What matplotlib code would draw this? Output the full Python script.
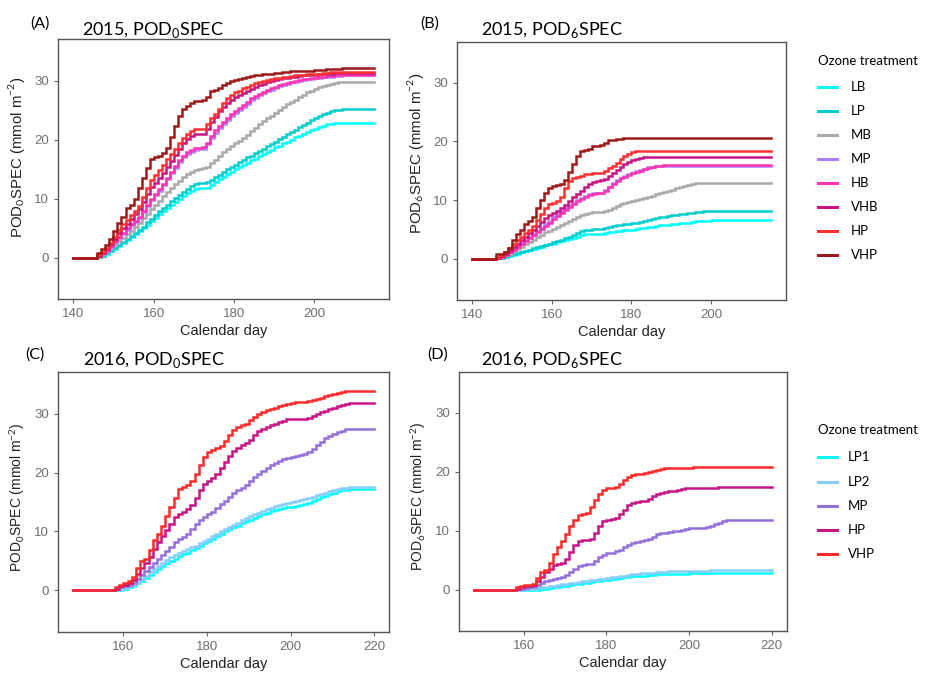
import numpy as np
import matplotlib
matplotlib.use('Agg')
import matplotlib.pyplot as plt
from matplotlib.lines import Line2D

# ---- data: cumulative stomatal ozone flux per calendar day ----
# 2015 series start at day 146 (flat at 0 from day 140)
names_2015 = ['LB', 'LP', 'MB', 'MP', 'HB', 'VHB', 'HP', 'VHP']
colors_2015 = ['#00FFFF', '#00CDCD', '#A9A9A9', '#AB82FF', '#FF34B3', '#C71585', '#FF3030', '#9E1A1A']

pod0_2015 = {
    'LB': [0.1, 0.3, 0.7, 1.1, 1.5, 2.0, 2.5, 3.0, 3.5, 4.0, 4.5, 5.0, 5.6, 6.2, 6.8, 7.4, 8.0, 8.5, 9.0, 9.5,
           10.0, 10.5, 11.0, 11.4, 11.7, 11.8, 11.8, 11.9, 12.3, 12.8, 13.3, 13.7, 14.2, 14.6, 15.0, 15.4, 15.7, 16.1, 16.5, 16.8,
           17.2, 17.6, 17.9, 18.3, 18.7, 19.0, 19.4, 19.7, 20.0, 20.4, 20.7, 21.0, 21.3, 21.6, 21.9, 22.2, 22.4, 22.6, 22.7, 22.8,
           22.9] + [22.9] * 9,
    'LP': [0.1, 0.4, 0.8, 1.2, 1.7, 2.2, 2.7, 3.2, 3.7, 4.2, 4.7, 5.3, 6.0, 6.6, 7.3, 7.9, 8.5, 9.0, 9.6, 10.1,
           10.7, 11.2, 11.7, 12.1, 12.5, 12.7, 12.7, 12.8, 13.2, 13.7, 14.1, 14.5, 15.0, 15.4, 15.8, 16.2, 16.6, 17.0, 17.3, 17.7,
           18.1, 18.5, 18.9, 19.3, 19.7, 20.1, 20.5, 20.9, 21.3, 21.7, 22.1, 22.5, 22.9, 23.3, 23.7, 24.0, 24.3, 24.6, 24.8, 25.0,
           25.1] + [25.2] * 9,
    'MB': [0.2, 0.6, 1.1, 1.6, 2.2, 2.8, 3.4, 4.0, 4.6, 5.3, 5.9, 6.7, 7.5, 8.3, 9.0, 9.7, 10.4, 11.1, 11.8, 12.5,
           13.1, 13.7, 14.2, 14.6, 14.9, 15.1, 15.2, 15.4, 16.0, 16.6, 17.3, 17.9, 18.4, 18.9, 19.4, 19.8, 20.3, 20.8, 21.4, 22.0,
           22.6, 23.1, 23.6, 24.1, 24.6, 25.1, 25.6, 26.0, 26.4, 26.8, 27.2, 27.6, 28.0, 28.3, 28.6, 28.9, 29.1, 29.3, 29.5, 29.6,
           29.7] + [29.8] * 9,
    'MP': [0.3, 0.7, 1.2, 1.9, 2.6, 3.4, 4.1, 4.8, 5.5, 6.1, 6.8, 7.8, 8.8, 9.8, 10.6, 11.4, 12.3, 13.3, 14.3, 15.3,
           16.2, 17.0, 17.6, 18.0, 18.3, 18.4, 18.5, 19.2, 20.3, 21.2, 22.0, 22.7, 23.4, 24.0, 24.5, 25.0, 25.5, 26.1, 26.7, 27.1,
           27.5, 27.9, 28.2, 28.5, 28.8, 29.1, 29.3, 29.5, 29.7, 29.8, 30.0, 30.1, 30.2, 30.3, 30.4, 30.5, 30.6, 30.7, 30.7, 30.8,
           30.8] + [30.9] * 9,
    'HB': [0.3, 0.8, 1.3, 2.0, 2.8, 3.6, 4.3, 5.0, 5.7, 6.3, 7.0, 8.0, 9.0, 10.0, 10.8, 11.6, 12.5, 13.5, 14.5, 15.5,
           16.5, 17.3, 17.9, 18.3, 18.6, 18.6, 18.7, 19.5, 20.7, 21.6, 22.4, 23.0, 23.7, 24.3, 24.8, 25.3, 25.8, 26.4, 27.0, 27.4,
           27.8, 28.1, 28.4, 28.7, 28.9, 29.2, 29.4, 29.6, 29.8, 29.9, 30.1, 30.2, 30.3, 30.4, 30.5, 30.6, 30.7, 30.8, 30.8, 30.9,
           30.9] + [31.0] * 9,
    'VHB': [0.4, 0.9, 1.5, 2.3, 3.2, 4.2, 5.0, 5.8, 6.6, 7.4, 8.2, 9.5, 10.8, 12.0, 12.7, 13.5, 14.4, 15.4, 16.4, 17.4,
            18.5, 19.5, 20.2, 20.6, 20.9, 20.9, 21.0, 21.9, 23.0, 23.9, 24.8, 25.6, 26.3, 26.8, 27.2, 27.5, 27.9, 28.3, 28.6, 28.9,
            29.2, 29.5, 29.7, 29.9, 30.1, 30.3, 30.4, 30.5, 30.6, 30.7, 30.8, 30.9, 30.9, 31.0, 31.0, 31.1, 31.1, 31.2, 31.2, 31.3,
            31.3] + [31.3] * 9,
    'HP': [0.5, 1.0, 1.7, 2.6, 3.6, 4.8, 5.7, 6.5, 7.3, 8.0, 8.8, 10.3, 11.8, 13.2, 14.0, 14.8, 15.8, 16.8, 17.6, 18.4,
           19.4, 20.3, 21.0, 21.5, 21.8, 21.8, 21.9, 22.7, 23.6, 24.4, 25.2, 26.2, 27.1, 27.6, 28.0, 28.3, 28.7, 29.0, 29.3, 29.6,
           29.8, 30.0, 30.1, 30.3, 30.4, 30.5, 30.6, 30.7, 30.8, 30.9, 30.9, 31.0, 31.1, 31.1, 31.2, 31.2, 31.3, 31.3, 31.4, 31.4,
           31.5] + [31.5] * 9,
    'VHP': [0.8, 1.5, 2.2, 3.2, 4.6, 5.9, 7.0, 8.5, 9.0, 10.0, 11.8, 13.5, 15.2, 16.7, 17.0, 17.3, 17.8, 18.6, 20.5, 22.3,
            24.0, 25.2, 25.7, 26.2, 26.6, 26.6, 26.8, 27.3, 28.2, 28.5, 28.8, 29.3, 29.6, 29.9, 30.1, 30.2, 30.4, 30.6, 30.8, 30.9,
            31.0, 31.1, 31.1, 31.2, 31.3, 31.3, 31.4, 31.5, 31.6, 31.6, 31.6, 31.7, 31.7, 31.7, 31.8, 31.8, 31.8, 31.9, 31.9, 32.0,
            32.0] + [32.1] * 9,
}

pod6_2015 = {
    'LB': [0.1, 0.2, 0.3, 0.5, 0.7, 0.9, 1.1, 1.3, 1.5, 1.7, 1.9, 2.1, 2.3, 2.5, 2.6, 2.8, 3.0, 3.2, 3.4, 3.6,
           3.8, 4.0, 4.2, 4.3, 4.3, 4.3, 4.3, 4.4, 4.5, 4.6, 4.7, 4.8, 4.9, 5.0, 5.0, 5.1, 5.2, 5.3, 5.4, 5.5,
           5.6, 5.7, 5.8, 5.8, 5.9, 6.0, 6.1, 6.2, 6.2, 6.3, 6.4, 6.4, 6.5, 6.5, 6.6, 6.6, 6.7] + [6.7] * 13,
    'LP': [0.1, 0.2, 0.4, 0.6, 0.8, 1.0, 1.2, 1.4, 1.6, 1.8, 2.0, 2.2, 2.4, 2.6, 2.8, 3.0, 3.2, 3.5, 3.8, 4.1,
           4.4, 4.7, 4.9, 5.0, 5.1, 5.1, 5.1, 5.2, 5.4, 5.6, 5.7, 5.8, 5.9, 6.0, 6.1, 6.2, 6.3, 6.4, 6.6, 6.8,
           7.0, 7.1, 7.2, 7.3, 7.4, 7.5, 7.6, 7.7, 7.8, 7.9, 8.0, 8.0, 8.1] + [8.1] * 17,
    'MB': [0.1, 0.3, 0.6, 0.9, 1.3, 1.7, 2.1, 2.5, 2.9, 3.3, 3.7, 4.1, 4.5, 4.8, 5.1, 5.5, 5.8, 6.2, 6.5, 6.8,
           7.1, 7.4, 7.7, 7.9, 8.0, 8.0, 8.0, 8.1, 8.4, 8.7, 9.0, 9.3, 9.5, 9.7, 9.8, 10.0, 10.2, 10.4, 10.6, 10.8,
           11.0, 11.2, 11.4, 11.6, 11.8, 12.0, 12.2, 12.4, 12.6, 12.8, 12.9, 13.0] + [13.0] * 18,
    'MP': [0.2, 0.5, 0.8, 1.2, 1.7, 2.2, 2.7, 3.2, 3.7, 4.2, 4.7, 5.3, 5.9, 6.5, 7.1, 7.6, 8.1, 8.6, 9.1, 9.6,
           10.0, 10.4, 10.7, 11.0, 11.2, 11.3, 11.3, 11.7, 12.3, 12.9, 13.4, 13.8, 14.1, 14.4, 14.7, 14.9, 15.1, 15.4, 15.6, 15.7,
           15.8, 15.9, 15.9] + [15.9] * 27,
    'HB': [0.2, 0.4, 0.7, 1.1, 1.6, 2.1, 2.6, 3.1, 3.6, 4.1, 4.6, 5.1, 5.6, 6.2, 6.8, 7.3, 7.8, 8.3, 8.8, 9.3,
           9.8, 10.2, 10.6, 10.9, 11.1, 11.2, 11.2, 11.6, 12.2, 12.8, 13.3, 13.7, 14.0, 14.3, 14.6, 14.8, 15.0, 15.3, 15.5, 15.6,
           15.8, 15.9, 16.0] + [16.0] * 27,
    'VHB': [0.2, 0.5, 0.9, 1.4, 2.0, 2.6, 3.2, 3.8, 4.4, 5.0, 5.6, 6.3, 7.0, 7.5, 7.8, 8.2, 8.6, 9.2, 9.9, 10.5,
            11.0, 11.6, 12.2, 12.7, 13.1, 13.3, 13.4, 13.6, 14.1, 14.6, 15.1, 15.6, 16.1, 16.5, 16.9, 17.1, 17.2, 17.3, 17.4] + [17.4] * 31,
    'HP': [0.3, 0.7, 1.2, 1.8, 2.5, 3.2, 3.8, 4.4, 4.9, 5.6, 6.6, 7.6, 8.6, 9.3, 9.6, 9.8, 10.6, 12.0, 13.2, 13.7,
           14.0, 14.2, 14.4, 14.5, 14.6, 14.6, 14.7, 15.0, 15.5, 15.9, 16.4, 17.0, 17.5, 17.9, 18.2, 18.4] + [18.4] * 34,
    'VHP': [0.8, 0.9, 1.2, 1.9, 3.2, 4.2, 5.0, 6.0, 6.4, 7.2, 8.7, 10.1, 11.2, 12.0, 12.5, 12.6, 12.8, 13.4, 14.8, 16.2,
            17.6, 18.3, 18.5, 18.8, 19.2, 19.3, 19.4, 19.8, 20.2, 20.3, 20.4, 20.5, 20.6, 20.6, 20.6] + [20.6] * 35,
}

# 2016 series start at day 158 (flat at 0 from day 148)
names_2016 = ['LP1', 'LP2', 'MP', 'HP', 'VHP']
colors_2016 = ['#00FFFF', '#87CEFA', '#9370DB', '#C71585', '#FF2A2A']

pod0_2016 = {
    'LP1': [0.0, 0.1, 0.3, 0.5, 0.8, 1.2, 1.6, 2.1, 2.6, 3.1, 3.6, 4.1, 4.6, 5.0, 5.4, 5.8, 6.1, 6.4, 6.8, 7.2,
            7.6, 8.0, 8.4, 8.8, 9.2, 9.6, 10.0, 10.4, 10.7, 11.0, 11.4, 11.7, 12.0, 12.3, 12.6, 12.9, 13.2, 13.4, 13.6, 13.8,
            14.0, 14.1, 14.2, 14.3, 14.5, 14.7, 14.9, 15.2, 15.5, 15.8, 16.1, 16.4, 16.6, 16.8, 17.0, 17.1, 17.2] + [17.2] * 6,
    'LP2': [0.1, 0.2, 0.4, 0.7, 1.0, 1.4, 1.9, 2.5, 3.1, 3.7, 4.2, 4.7, 5.2, 5.6, 6.0, 6.4, 6.7, 7.0, 7.3, 7.6,
            8.0, 8.4, 8.8, 9.2, 9.6, 10.0, 10.4, 10.8, 11.1, 11.5, 11.9, 12.3, 12.6, 12.9, 13.2, 13.5, 13.8, 14.0, 14.3, 14.5,
            14.7, 14.9, 15.0, 15.1, 15.3, 15.5, 15.7, 15.9, 16.2, 16.4, 16.6, 16.8, 17.0, 17.2, 17.3, 17.4, 17.5] + [17.5] * 6,
    'MP': [0.2, 0.5, 0.8, 1.0, 1.3, 1.9, 2.6, 3.3, 4.0, 4.7, 5.4, 6.0, 6.7, 7.4, 8.2, 8.7, 9.0, 9.6, 10.4, 11.2,
           11.9, 12.5, 12.9, 13.3, 14.0, 14.6, 15.2, 15.8, 16.5, 17.0, 17.4, 17.9, 18.6, 19.2, 19.8, 20.3, 20.7, 21.2, 21.6, 22.0,
           22.3, 22.5, 22.6, 22.8, 23.0, 23.2, 23.5, 24.0, 24.6, 25.2, 25.8, 26.2, 26.6, 26.9, 27.1, 27.3, 27.4] + [27.4] * 6,
    'HP': [0.3, 0.7, 1.0, 1.3, 1.8, 2.8, 3.8, 4.6, 5.6, 7.0, 8.2, 9.2, 10.2, 11.2, 12.4, 13.0, 13.3, 13.8, 14.5, 15.6,
           17.0, 18.1, 18.6, 19.0, 19.8, 20.8, 21.8, 22.8, 23.6, 24.2, 24.6, 25.0, 25.6, 26.3, 27.0, 27.4, 27.7, 28.0, 28.2, 28.5,
           28.8, 29.0, 29.0, 29.0, 29.0, 29.1, 29.3, 29.6, 29.9, 30.2, 30.5, 30.8, 31.0, 31.2, 31.4, 31.6, 31.8] + [31.8] * 6,
    'VHP': [0.5, 1.0, 1.3, 1.6, 2.2, 3.8, 5.0, 5.3, 6.8, 8.6, 9.6, 11.0, 12.6, 14.2, 15.6, 17.2, 17.6, 17.9, 18.6, 19.8,
            21.2, 22.6, 23.4, 23.8, 24.1, 24.5, 25.4, 26.4, 27.2, 27.7, 28.0, 28.3, 28.9, 29.5, 30.0, 30.3, 30.6, 30.7, 30.9, 31.2,
            31.5, 31.7, 31.8, 31.9, 32.0, 32.0, 32.1, 32.3, 32.5, 32.7, 32.9, 33.1, 33.3, 33.5, 33.6, 33.8, 33.9] + [33.9] * 6,
}

pod6_2016 = {
    'LP1': [0.0, 0.0, 0.0, 0.0, 0.0, 0.0, 0.1, 0.2, 0.3, 0.4, 0.5, 0.6, 0.7, 0.8, 0.9, 1.0, 1.1, 1.2, 1.3, 1.4,
            1.5, 1.6, 1.7, 1.8, 1.9, 2.0, 2.1, 2.2, 2.3, 2.3, 2.4, 2.4, 2.5, 2.5, 2.6, 2.6, 2.6, 2.7, 2.7, 2.7,
            2.7, 2.7, 2.8, 2.8, 2.8, 2.8, 2.8, 2.9] + [2.9] * 15,
    'LP2': [0.0, 0.0, 0.1, 0.1, 0.2, 0.3, 0.4, 0.5, 0.6, 0.7, 0.8, 0.9, 1.0, 1.1, 1.2, 1.3, 1.4, 1.5, 1.6, 1.7,
            1.8, 1.9, 2.0, 2.1, 2.2, 2.3, 2.4, 2.5, 2.6, 2.7, 2.8, 2.8, 2.9, 2.9, 3.0, 3.0, 3.0, 3.1, 3.1, 3.1,
            3.1, 3.1, 3.2, 3.2, 3.2, 3.2, 3.2, 3.3, 3.3, 3.3, 3.3] + [3.3] * 12,
    'MP': [0.1, 0.2, 0.3, 0.4, 0.5, 0.8, 1.1, 1.4, 1.7, 1.9, 2.0, 2.1, 2.5, 3.0, 3.6, 4.0, 4.2, 4.3, 4.4, 4.9,
           5.5, 5.9, 6.2, 6.3, 6.5, 6.8, 7.2, 7.6, 7.9, 8.1, 8.2, 8.4, 8.6, 9.0, 9.4, 9.6, 9.7, 9.8, 9.9, 10.0,
           10.2, 10.3, 10.4, 10.4, 10.5, 10.5, 10.6, 10.8, 11.1, 11.4, 11.7, 11.8] + [11.8] * 11,
    'HP': [0.2, 0.4, 0.6, 0.7, 0.8, 1.4, 2.2, 3.0, 3.6, 4.2, 4.4, 4.5, 5.2, 6.4, 7.6, 8.2, 8.4, 8.4, 8.6, 9.6,
           10.8, 11.6, 11.9, 12.0, 12.1, 12.8, 13.6, 14.3, 14.8, 14.9, 15.0, 15.1, 15.4, 15.9, 16.3, 16.5, 16.6, 16.7, 16.8, 16.9,
           17.1, 17.2, 17.2, 17.2, 17.2, 17.2, 17.3, 17.3, 17.3, 17.4] + [17.4] * 13,
    'VHP': [0.5, 0.7, 0.8, 0.8, 0.9, 2.0, 3.0, 3.3, 4.6, 6.0, 7.2, 8.3, 9.4, 10.8, 11.9, 12.6, 12.8, 13.0, 14.0, 15.2,
            16.3, 17.0, 17.2, 17.3, 17.5, 18.0, 18.6, 19.1, 19.5, 19.7, 19.7, 19.8, 19.9, 20.2, 20.4, 20.5, 20.6, 20.6, 20.6, 20.6,
            20.6, 20.7, 20.7, 20.8] + [20.8] * 19,
}

W, H = 927, 675
TXT = ['Lato', 'DejaVu Sans']

plt.rcParams['font.family'] = ['Liberation Sans', 'DejaVu Sans']
plt.rcParams['mathtext.fontset'] = 'custom'
plt.rcParams['mathtext.rm'] = 'Lato'

fig = plt.figure(figsize=(W / 100, H / 100), dpi=100)


def panel(box, data, names, colors, lead_day, start_day, xlim, xticks, ylab, ylab_y, ylab_size):
    x0, y0, x1, y1 = box
    ax = fig.add_axes([x0 / W, 1 - y1 / H, (x1 - x0) / W, (y1 - y0) / H])
    for name, col in zip(names, colors):
        vals = data[name]
        days = np.concatenate([[lead_day], np.arange(start_day, start_day + len(vals))])
        ax.plot(days, np.concatenate([[0.0], vals]), drawstyle='steps-post',
                color=col, lw=1.8, solid_joinstyle='miter')
    ax.set_xlim(*xlim)
    ax.set_ylim(-7, 37)
    ax.set_xticks(xticks)
    ax.set_yticks([0, 10, 20, 30])
    for s in ax.spines.values():
        s.set_color('#555555')
        s.set_linewidth(1.0)
    ax.tick_params(direction='out', length=3, width=0.8, color='#666666',
                   labelcolor='#707070', labelsize=9.5, pad=3.5)
    ax.set_xlabel('Calendar day', fontsize=10.5, color='#222222', labelpad=3)
    ax.set_ylabel(ylab, fontsize=ylab_size, color='#222222')
    ax.yaxis.set_label_coords(-0.095, ylab_y)
    return ax


def fig_text(x, y, s, **kw):
    fig.text(x / W, 1 - y / H, s, family=TXT, **kw)


ylab0 = r'POD$_{0}$SPEC (mmol m$^{\mathrm{-2}}$)'
ylab6 = r'POD$_{6}$SPEC (mmol m$^{\mathrm{-2}}$)'

panel((58.3, 39.3, 389.3, 299.3), pod0_2015, names_2015, colors_2015, 140, 146,
      (136.25, 218.75), [140, 160, 180, 200], ylab0, 0.547, 10.8)
panel((457.3, 41.7, 785.7, 300.0), pod6_2015, names_2015, colors_2015, 140, 146,
      (136.25, 218.75), [140, 160, 180, 200], ylab6, 0.567, 10.8)
panel((58.3, 372.3, 389.3, 631.7), pod0_2016, names_2016, colors_2016, 148, 158,
      (144.4, 223.6), [160, 180, 200, 220], ylab0, 0.517, 10)
panel((459.3, 371.7, 786.7, 631.0), pod6_2016, names_2016, colors_2016, 148, 158,
      (144.4, 223.6), [160, 180, 200, 220], ylab6, 0.518, 10)

# panel tags and titles
fig_text(30, 27.5, '(A)', fontsize=11.5, va='baseline')
fig_text(420.7, 27.5, '(B)', fontsize=11.5, va='baseline')
fig_text(25, 359, '(C)', fontsize=11.5, va='baseline')
fig_text(427.7, 359, '(D)', fontsize=11.5, va='baseline')
fig_text(82, 35, r'2015, POD$_{0}$SPEC', fontsize=13, va='baseline')
fig_text(480.7, 35, r'2015, POD$_{6}$SPEC', fontsize=13, va='baseline')
fig_text(83.3, 365, r'2016, POD$_{0}$SPEC', fontsize=13, va='baseline')
fig_text(480.7, 365, r'2016, POD$_{6}$SPEC', fontsize=13, va='baseline')


def legend(title_y, names, colors, rows, label_x):
    fig_text(818, title_y, 'Ozone treatment', fontsize=9.5, va='center')
    for name, col, y in zip(names, colors, rows):
        fig.add_artist(Line2D([818 / W, 837 / W], [1 - y / H] * 2, color=col, lw=2.2,
                              transform=fig.transFigure))
        fig_text(label_x, y, name, fontsize=9.5, va='center')


legend(60.7, names_2015, colors_2015, [87.3 + 23.9 * i for i in range(8)], 851)
legend(430, names_2016, colors_2016, [457.3, 481.5, 505.5, 529.8, 554.0], 848)

fig.savefig('out.png', dpi=100)
